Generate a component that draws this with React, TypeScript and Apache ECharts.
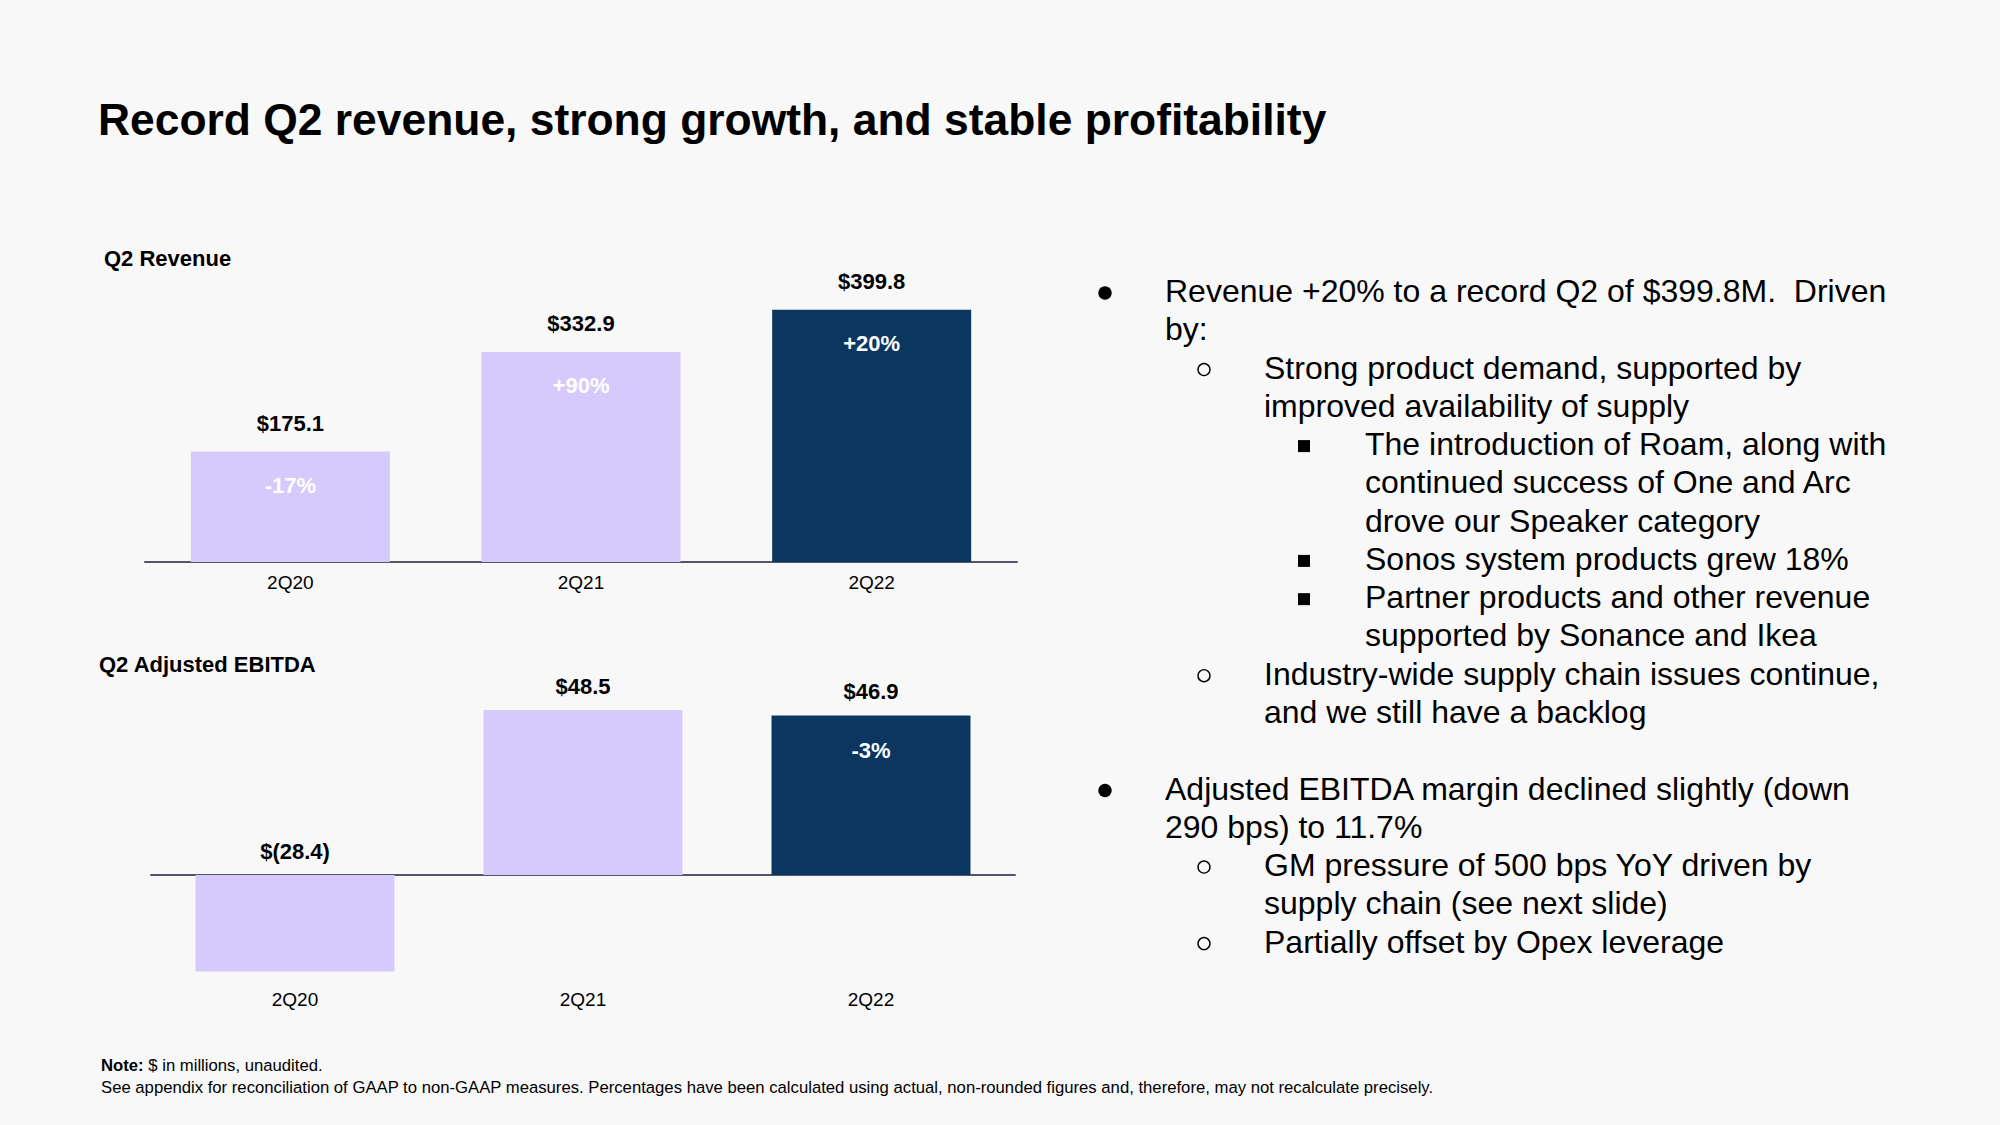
import React, { useEffect, useRef } from 'react';
import * as echarts from 'echarts';

const categories = ['2Q20', '2Q21', '2Q22'];
const revenue = [175.1, 332.9, 399.8];
const revenueGrowth = ['-17%', '+90%', '+20%'];
const ebitda = [-28.4, 48.5, 46.9];
const ebitdaGrowth = ['', '', '-3%'];

const title = 'Record Q2 revenue, strong growth, and stable profitability';
const revenueTitle = 'Q2 Revenue';
const ebitdaTitle = 'Q2 Adjusted EBITDA';
const noteBold = 'Note:';
const noteRest = ' $ in millions, unaudited.';
const note2 =
  'See appendix for reconciliation of GAAP to non-GAAP measures. Percentages have been calculated using actual, non-rounded figures and, therefore, may not recalculate precisely.';

// [level, hasBullet, text]
const bulletLines: [number, boolean, string][] = [
  [1, true, 'Revenue +20% to a record Q2 of $399.8M.  Driven'],
  [1, false, 'by:'],
  [2, true, 'Strong product demand, supported by'],
  [2, false, 'improved availability of supply'],
  [3, true, 'The introduction of Roam, along with'],
  [3, false, 'continued success of One and Arc'],
  [3, false, 'drove our Speaker category'],
  [3, true, 'Sonos system products grew 18%'],
  [3, true, 'Partner products and other revenue'],
  [3, false, 'supported by Sonance and Ikea'],
  [2, true, 'Industry-wide supply chain issues continue,'],
  [2, false, 'and we still have a backlog'],
  [0, false, ''],
  [1, true, 'Adjusted EBITDA margin declined slightly (down'],
  [1, false, '290 bps) to 11.7%'],
  [2, true, 'GM pressure of 500 bps YoY driven by'],
  [2, false, 'supply chain (see next slide)'],
  [2, true, 'Partially offset by Opex leverage'],
];

const FONT = '"Liberation Sans", Arial, Helvetica, sans-serif';
const LAV = '#D6C9FC';
const NAVY = '#0A365F';
const AXIS = '#55556a';

const money = (v: number) => (v >= 0 ? `$${v.toFixed(1)}` : `$(${Math.abs(v).toFixed(1)})`);

function buildGraphic() {
  const g: any[] = [];
  g.push({
    type: 'text', x: 98, y: 119,
    style: { text: title, fontSize: 44.4, fontWeight: 'bold', fontFamily: FONT, fill: '#000', verticalAlign: 'middle' },
  });
  g.push({
    type: 'text', x: 104, y: 258,
    style: { text: revenueTitle, fontSize: 22, fontWeight: 'bold', fontFamily: FONT, fill: '#000', verticalAlign: 'middle' },
  });
  g.push({
    type: 'text', x: 99, y: 664,
    style: { text: ebitdaTitle, fontSize: 22, fontWeight: 'bold', fontFamily: FONT, fill: '#000', verticalAlign: 'middle' },
  });
  g.push({
    type: 'text', x: 101, y: 1065,
    style: {
      text: `{b|${noteBold}}${noteRest}`, fontSize: 16.7, fontFamily: FONT, fill: '#000', verticalAlign: 'middle',
      rich: { b: { fontWeight: 'bold', fontSize: 16.7, fontFamily: FONT } },
    },
  });
  g.push({
    type: 'text', x: 101, y: 1087,
    style: { text: note2, fontSize: 16.7, fontFamily: FONT, fill: '#000', verticalAlign: 'middle' },
  });

  const textX = [0, 1165, 1264, 1365];
  const bulletX = [0, 1105, 1204, 1304];
  const y0 = 291;
  const step = 38.27;
  bulletLines.forEach(([level, hasBullet, text], i) => {
    const y = y0 + i * step;
    if (!text) return;
    g.push({
      type: 'text', x: textX[level], y,
      style: { text, fontSize: 32, fontFamily: FONT, fill: '#000', verticalAlign: 'middle' },
    });
    if (hasBullet) {
      const by = y + 2;
      if (level === 1) {
        g.push({ type: 'circle', shape: { cx: bulletX[1], cy: by, r: 6.7 }, style: { fill: '#000' } });
      } else if (level === 2) {
        g.push({ type: 'circle', shape: { cx: bulletX[2], cy: by, r: 6 }, style: { fill: 'none', stroke: '#000', lineWidth: 1.4 } });
      } else {
        g.push({ type: 'rect', shape: { x: bulletX[3] - 6, y: by - 6, width: 12, height: 12 }, style: { fill: '#000' } });
      }
    }
  });
  return g;
}

function barSeries(values: number[], growth: string[], xAxisIndex: number, yAxisIndex: number, topDist: number, inDist: number) {
  const last = values.length - 1;
  return [
    {
      type: 'bar',
      xAxisIndex,
      yAxisIndex,
      barWidth: 199,
      barGap: '-100%',
      data: values.map((v, i) => ({ value: v, itemStyle: { color: i === last ? NAVY : LAV } })),
      label: {
        show: true,
        position: 'top',
        distance: topDist,
        formatter: (p: any) => money(p.value),
        fontSize: 22,
        fontWeight: 'bold',
        color: '#000',
        fontFamily: FONT,
      },
    },
    {
      type: 'bar',
      xAxisIndex,
      yAxisIndex,
      barWidth: 199,
      barGap: '-100%',
      silent: true,
      data: values.map((v) => ({ value: v, itemStyle: { color: 'rgba(0,0,0,0)' } })),
      label: {
        show: true,
        position: 'insideTop',
        distance: inDist,
        formatter: (p: any) => growth[p.dataIndex],
        fontSize: 22,
        fontWeight: 'bold',
        color: '#fff',
        fontFamily: FONT,
      },
    },
  ];
}

export default function App() {
  const ref = useRef<HTMLDivElement>(null);
  useEffect(() => {
    if (!ref.current) return;
    const chart = echarts.init(ref.current, undefined, { renderer: 'svg' });
    chart.setOption({
      animation: false,
      backgroundColor: '#F8F8F8',
      textStyle: { fontFamily: FONT },
      grid: [
        { left: 145, top: 297, width: 872, height: 265 },
        { left: 151, top: 671, width: 864, height: 306 },
      ],
      xAxis: [
        {
          type: 'category', gridIndex: 0, data: categories,
          axisLine: { show: true, lineStyle: { color: AXIS, width: 2 } },
          axisTick: { show: false },
          axisLabel: { fontSize: 19, color: '#000', margin: 11, fontFamily: FONT },
        },
        {
          type: 'category', gridIndex: 1, data: categories,
          axisLine: { show: true, onZero: true, lineStyle: { color: AXIS, width: 2 } },
          axisTick: { show: false },
          axisLabel: { show: false },
        },
        {
          type: 'category', gridIndex: 1, data: categories, position: 'bottom',
          axisLine: { show: false, onZero: false },
          axisTick: { show: false },
          axisLabel: { fontSize: 19, color: '#000', margin: 13, fontFamily: FONT },
        },
      ],
      yAxis: [
        { type: 'value', gridIndex: 0, min: 0, max: 420, show: false },
        { type: 'value', gridIndex: 1, min: -30, max: 60, show: false },
      ],
      series: [
        ...barSeries(revenue, revenueGrowth, 0, 0, 17, 23),
        ...barSeries(ebitda, ebitdaGrowth, 1, 1, 13, 24),
      ],
      graphic: buildGraphic(),
    });
    return () => chart.dispose();
  }, []);
  return <div ref={ref} style={{ position: 'fixed', left: 0, top: 0, width: 2000, height: 1125 }} />;
}
